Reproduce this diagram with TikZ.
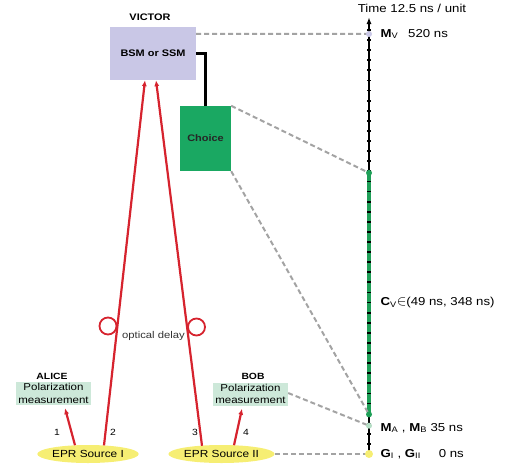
\documentclass[tikz,border=0pt]{standalone}
\usepackage{fontspec}
\setmainfont{Liberation Sans}[FakeStretch=1.15]
\usepackage{xcolor}
\definecolor{vicLav}{HTML}{C9C7E6}
\definecolor{choGreen}{HTML}{1AA862}
\definecolor{measBg}{HTML}{CDE8D9}
\definecolor{eprYellow}{HTML}{F6EE73}
\definecolor{beamRed}{HTML}{D6232E}
\definecolor{dashGray}{HTML}{A3A3A3}
\definecolor{cvGreen}{HTML}{1E9F57}
\definecolor{maDot}{HTML}{B5DEC5}
\usetikzlibrary{arrows.meta, positioning, shapes.geometric, calc}

\begin{document}
\begin{tikzpicture}[
  x=1pt, y=-1pt,
  box/.style={inner sep=1pt, align=center},
  victor/.style={box, fill=vicLav, minimum width=86pt, minimum height=53pt, font=\fontsize{9.5}{11}\bfseries},
  choice/.style={box, fill=choGreen, minimum width=51pt, minimum height=65pt, font=\fontsize{9.5}{11}\bfseries, text=black!85},
  meas/.style={box, fill=measBg, minimum width=75pt, minimum height=23pt, inner sep=0.5pt, font=\fontsize{10}{12.5}\selectfont},
  epr/.style={ellipse, fill=eprYellow, minimum width=87pt, minimum height=18pt, inner sep=0pt, font=\fontsize{10.3}{11}\selectfont},
  who/.style={font=\fontsize{9}{10}\bfseries},
  delay/.style={circle, draw=beamRed, line width=1.8pt, minimum size=17pt, inner sep=0pt},
  beam/.style={draw=beamRed, line width=2.2pt, -{Latex[length=6pt,width=5pt]}},
  link/.style={draw=dashGray, line width=2pt, dash pattern=on 5pt off 3pt},
  tlbl/.style={anchor=west, font=\fontsize{11.5}{13}\selectfont},
  num/.style={font=\fontsize{9}{10}\selectfont},
  tdot/.style={circle, inner sep=0pt, minimum size=6pt},
  >=Latex
]
  \useasboundingbox (0,0) rectangle (516,469);

  % Victor and his choice
  \node[victor]                              at (153,53.5)  (vic)     {BSM or SSM};
  \node[who, font=\fontsize{9.5}{11}\bfseries] at (150,17)  (viclbl)  {VICTOR};
  \node[choice]                              at (205.5,138.5) (cho)   {Choice};

  % Alice and Bob
  \node[meas]                                at (53.5,393.5) (alice)  {Polarization\\measurement};
  \node[who]                                 at (52,376)    (alicelbl) {ALICE};
  \node[meas]                                at (250.5,394) (bob)     {Polarization\\measurement};
  \node[who]                                 at (253,376)   (boblbl)  {BOB};

  % EPR sources
  \node[epr]                                 at (88,454)    (src1)    {EPR Source I};
  \node[epr]                                 at (221.5,454) (src2)    {EPR Source II};

  % optical delay loops
  \node[delay]                               at (108,326)   (dly1)    {};
  \node[delay]                               at (196.5,327) (dly2)    {};
  \node[font=\fontsize{9.8}{11}\selectfont, text=black!80] at (153.5,336) (dlylbl) {optical delay};

  % photon numbers
  \node[num] at (57,432)  (n1) {1};
  \node[num] at (113,432) (n2) {2};
  \node[num] at (195,432) (n3) {3};
  \node[num] at (246,432) (n4) {4};

  % time axis
  \coordinate (g)     at (369,454);
  \coordinate (mab)   at (369,425.7);
  \coordinate (cvbot) at (369,414.4);
  \coordinate (cvtop) at (369,172.9);
  \coordinate (mv)    at (369,34);
  \coordinate (ttop)  at (369,17);

  \draw[line width=2pt, -{Latex[length=7pt,width=5pt]}] (g) -- (ttop);
  \draw[cvGreen, line width=3.2pt] (cvbot) -- (cvtop);
  \foreach \i in {1,...,42}
    \draw[line width=1.8pt] ($(g)+(-1.8,{-\i*10.096})$) -- ++(3.6,0);

  \node[tlbl, anchor=center] at (412,8) (timelbl) {Time 12.5 ns / unit};
  \node[tlbl] at (377,34)  (mvlbl)  {\textbf{M}\textsubscript{V}\hspace{10pt}520 ns};
  \node[tlbl] at (377,303) (cvlbl)  {\textbf{C}\textsubscript{V}{\Large$\in$}(49 ns, 348 ns)};
  \node[tlbl] at (377,428) (mablbl) {\textbf{M}\textsubscript{A} , \textbf{M}\textsubscript{B} 35 ns};
  \node[tlbl] at (377,454) (glbl)   {\textbf{G}\textsubscript{I} , \textbf{G}\textsubscript{II}\hspace{18pt}0 ns};

  % beams
  \draw[beam] ($(src1.north)+(-13,0.4)$) -- ($(alice.south)+(11.5,3)$);
  \draw[beam] ($(src1.north)+(16,0.6)$)  -- ($(vic.south)+(-8,0)$);
  \draw[beam] ($(src2.north)+(-19.5,1)$) -- ($(vic.south)+(3,0)$);
  \draw[beam] ($(src2.north)+(12.5,0.4)$) -- ($(bob.south)+(-8.5,3)$);

  % Victor to choice
  \draw[line width=2.2pt] (vic.east) -| (cho.north);

  % timing links
  \draw[link] ($(vic.north east)+(0,7)$) -- (mv);
  \draw[link] (cho.north east) -- (cvtop);
  \draw[link] (cho.south east) -- (cvbot);
  \draw[link] ($(bob.east)+(0,-1)$) -- (mab);
  \draw[link] (src2.east) -- (g);

  % event dots
  \node[tdot, fill=vicLav]   at (mv)    (mvdot)  {};
  \node[tdot, fill=cvGreen]  at (cvtop) (cvtdot) {};
  \node[tdot, fill=cvGreen]  at (cvbot) (cvbdot) {};
  \node[tdot, fill=maDot]    at (mab)   (madot)  {};
  \node[tdot, fill=eprYellow, minimum size=8pt] at (g) (gdot) {};
\end{tikzpicture}
\end{document}
